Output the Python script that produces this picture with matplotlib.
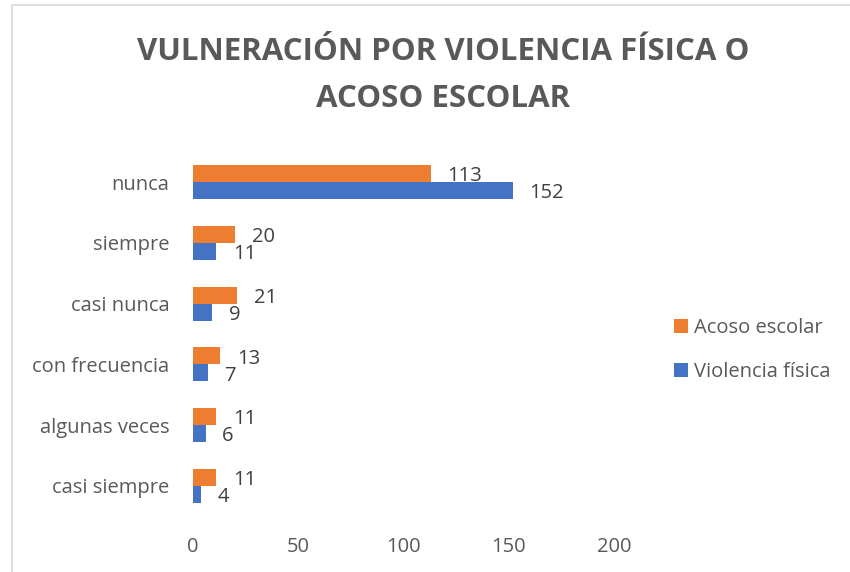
import matplotlib
matplotlib.use("Agg")
import matplotlib.pyplot as plt
from matplotlib.patches import Rectangle
import numpy as np

categories = ["casi siempre", "algunas veces", "con frecuencia", "casi nunca", "siempre", "nunca"]
acoso = [11, 11, 13, 21, 20, 113]
violencia = [4, 6, 7, 9, 11, 152]
xticks = [0, 50, 100, 150, 200]

plt.rcParams['font.family'] = ['Open Sans', 'DejaVu Sans']
TXT = '#595959'
ORANGE = '#ED7D31'
BLUE = '#4472C4'

W, H = 850, 572
fig = plt.figure(figsize=(W/100, H/100), dpi=100)
fig.patches.append(Rectangle((12/W, -0.1), 1.2, (H-5)/H + 0.1, transform=fig.transFigure,
                             fill=False, edgecolor='#D9D9D9', linewidth=1.2))

ax = fig.add_axes([193/W, 1-516.4/H, (614-193)/W, (516.4-151.6)/H])
y = np.arange(len(categories))
h = 0.28
bo = ax.barh(y + h/2, acoso, height=h, color=ORANGE, label='Acoso escolar')
bb = ax.barh(y - h/2, violencia, height=h, color=BLUE, label='Violencia física')
for bars, vals in ((bo, acoso), (bb, violencia)):
    for b, v in zip(bars, vals):
        ax.annotate(str(v), (b.get_width(), b.get_y() + b.get_height()/2),
                    xytext=(12, -2), textcoords='offset points', ha='left', va='center',
                    fontsize=14.5, color='#404040')

ax.set_xlim(0, 200)
ax.set_ylim(-0.5, len(categories) - 0.5)
ax.set_xticks(xticks)
ax.set_yticks(y)
ax.set_yticklabels(categories)
ax.tick_params(length=0, labelsize=14.5, colors=TXT)
ax.tick_params(axis='x', pad=15)
ax.tick_params(axis='y', pad=17)
for s in ax.spines.values():
    s.set_visible(False)

fig.text(443/W, 1-52/H, 'VULNERACIÓN POR VIOLENCIA FÍSICA O', ha='center', va='center',
         fontsize=22.5, fontweight='bold', color=TXT)
fig.text(443/W, 1-99/H, 'ACOSO ESCOLAR', ha='center', va='center',
         fontsize=22.5, fontweight='bold', color=TXT)

handles = [bo, bb]
leg = fig.legend(handles, ['Acoso escolar', 'Violencia física'], loc='center left',
                 bbox_to_anchor=(656/W, 1-350/H), frameon=False, fontsize=14.5,
                 handlelength=0.7, handleheight=0.7, handletextpad=0.3, labelspacing=1.2)
for t in leg.get_texts():
    t.set_color(TXT)

fig.savefig('out.png', dpi=100)
